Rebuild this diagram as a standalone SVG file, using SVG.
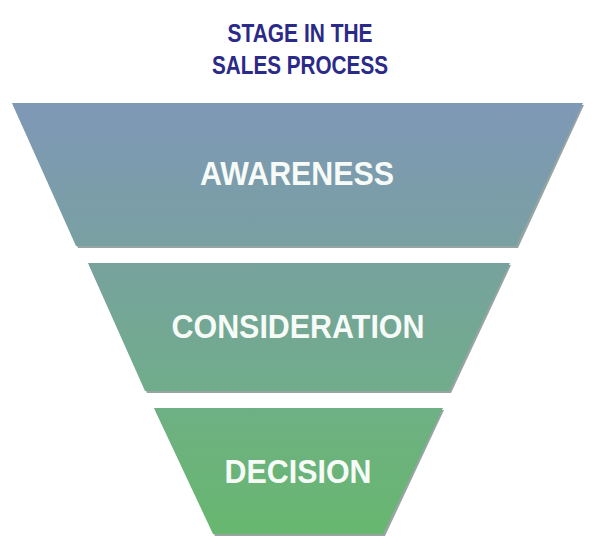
<svg xmlns="http://www.w3.org/2000/svg" width="598" height="554" viewBox="0 0 598 554">
  <defs>
    <linearGradient id="funnel" gradientUnits="userSpaceOnUse" x1="0" y1="103" x2="0" y2="534">
      <stop offset="0" stop-color="#7f98b7"/>
      <stop offset="0.33" stop-color="#79a0a2"/>
      <stop offset="0.37" stop-color="#77a29d"/>
      <stop offset="0.67" stop-color="#70ad8b"/>
      <stop offset="0.71" stop-color="#6eb083"/>
      <stop offset="1" stop-color="#67b76f"/>
    </linearGradient>
  </defs>
  <style>
    .shadow { fill: #3f5a55; opacity: 0.55; }
    .stage { fill: url(#funnel); }
    .label { font-family: "Liberation Sans", Arial, sans-serif; font-weight: bold; font-size: 33.5px; fill: #f6fbf7; text-anchor: middle; }
    .title { font-family: "Liberation Sans", Arial, sans-serif; font-weight: bold; font-size: 26.5px; fill: #2b2a88; text-anchor: middle; }
  </style>
  <rect width="598" height="554" fill="#ffffff"/>
  <g id="title">
    <text class="title" x="300" y="42" textLength="145" lengthAdjust="spacingAndGlyphs">STAGE IN THE</text>
    <text class="title" x="300" y="74" textLength="176" lengthAdjust="spacingAndGlyphs">SALES PROCESS</text>
  </g>
  <g id="awareness">
    <polygon class="shadow" points="13,105 584,105 518,248 78,248"/>
    <polygon class="stage" points="12,103 583,103 516,246 76,246"/>
    <text class="label" x="297" y="185" textLength="194" lengthAdjust="spacingAndGlyphs">AWARENESS</text>
  </g>
  <g id="consideration">
    <polygon class="shadow" points="89,265 511,265 451,393 147,393"/>
    <polygon class="stage" points="88,263 510,263 449,391 145,391"/>
    <text class="label" x="298" y="338" textLength="253" lengthAdjust="spacingAndGlyphs">CONSIDERATION</text>
  </g>
  <g id="decision">
    <polygon class="shadow" points="155,410 444,410 385,536 215,536"/>
    <polygon class="stage" points="154,408 443,408 383,534 213,534"/>
    <text class="label" x="298" y="483" textLength="147" lengthAdjust="spacingAndGlyphs">DECISION</text>
  </g>
  <g id="connectors"/>
</svg>
